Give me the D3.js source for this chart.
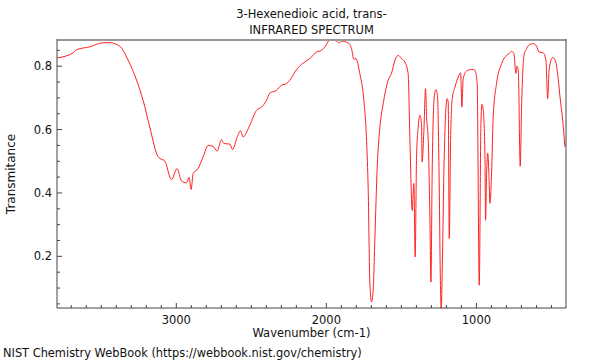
<!DOCTYPE html>
<html><head><meta charset="utf-8">
<script src="https://cdn.jsdelivr.net/npm/d3@7"></script>
<style>body{margin:0;background:#fff}svg{display:block;font-family:"DejaVu Sans",sans-serif}</style>
</head><body><svg id="c" width="600" height="360"></svg>
<script>
const titleLines = ["3-Hexenedioic acid, trans-", "INFRARED SPECTRUM"];
const xLabel = "Wavenumber (cm-1)";
const yLabel = "Transmitance";
const footer = "NIST Chemistry WebBook (https://webbook.nist.gov/chemistry)";
const xTickValues = [3000, 2000, 1000];
const yTickValues = [0.2, 0.4, 0.6, 0.8];
const wavenumber = [3795,3688,3665,3577,3488,3443,3377,3321,3265,3221,3177,3121,3110,3077,3032,2995,2965,2932,2915,2901,2888,2855,2821,2788,2755,2728,2699,2683,2643,2625,2595,2572,2555,2510,2465,2432,2399,2377,2332,2299,2265,2243,2199,2155,2110,2065,2032,2010,1977,1932,1915,1899,1855,1832,1817,1803,1777,1750,1732,1721,1710,1699,1688,1677,1661,1643,1621,1588,1566,1543,1521,1499,1477,1455,1443,1428,1417,1408,1399,1388,1377,1366,1362,1350,1339,1332,1321,1310,1303,1295,1281,1270,1259,1249,1239,1235,1226,1217,1206,1195,1188,1181,1172,1161,1143,1121,1105,1097,1088,1065,1032,1010,995,981,970,963,955,943,939,932,925,917,910,899,888,866,832,799,782,766,750,737,730,721,708,699,683,666,643,621,599,583,555,537,525,515,492,475,459,443,425,410];
const transmittance = [0.826,0.842,0.852,0.861,0.874,0.874,0.863,0.819,0.756,0.692,0.608,0.514,0.509,0.501,0.442,0.477,0.438,0.432,0.449,0.411,0.461,0.477,0.514,0.550,0.547,0.532,0.568,0.556,0.554,0.537,0.575,0.596,0.577,0.614,0.661,0.671,0.692,0.715,0.724,0.740,0.745,0.756,0.789,0.810,0.824,0.845,0.850,0.861,0.882,0.880,0.873,0.879,0.873,0.855,0.822,0.824,0.777,0.692,0.566,0.408,0.114,0.056,0.093,0.251,0.482,0.608,0.682,0.756,0.777,0.819,0.834,0.824,0.813,0.777,0.566,0.345,0.430,0.198,0.514,0.608,0.645,0.619,0.498,0.598,0.729,0.640,0.566,0.324,0.119,0.461,0.703,0.726,0.703,0.461,0.093,0.036,0.198,0.461,0.640,0.698,0.687,0.256,0.566,0.698,0.734,0.766,0.779,0.671,0.761,0.785,0.790,0.787,0.745,0.109,0.619,0.680,0.666,0.514,0.314,0.461,0.526,0.461,0.367,0.461,0.640,0.745,0.808,0.834,0.840,0.847,0.840,0.777,0.800,0.787,0.484,0.671,0.834,0.855,0.869,0.871,0.863,0.845,0.842,0.819,0.698,0.792,0.827,0.819,0.777,0.703,0.629,0.545];

const svg = d3.select("#c");
const L = 57, R = 566, T = 40, B = 308;
const FS = 11.5;
const x = d3.scaleLinear().domain([3795, 403]).range([L, R]);
const y = d3.scaleLinear().domain([0.037, 0.8826]).range([B, T]);

// data line
const data = wavenumber.map((w, i) => [w, transmittance[i]]);
svg.append("path").datum(data)
  .attr("fill", "none").attr("stroke", "#ff2020").attr("stroke-width", 1)
  .attr("stroke-linejoin", "round")
  .attr("d", d3.line().x(d => x(d[0])).y(d => y(d[1])).curve(d3.curveMonotoneX));

// frame
svg.append("line").attr("x1", L).attr("x2", R).attr("y1", T).attr("y2", T).attr("stroke", "#999").attr("stroke-width", 2);
svg.append("line").attr("x1", R).attr("x2", R).attr("y1", T - 1).attr("y2", B).attr("stroke", "#444").attr("stroke-width", 1);

// axes with inward ticks
const xMinor = d3.range(500, 3800, 100).filter(v => v % 1000 !== 0);
const gx = svg.append("g").attr("transform", `translate(0,${B})`);
gx.append("line").attr("x1", L).attr("x2", R).attr("stroke", "#444");
gx.selectAll(".mn").data(xMinor).join("line").attr("x1", d => x(d)).attr("x2", d => x(d)).attr("y1", 0).attr("y2", -3).attr("stroke", "#444");
gx.selectAll(".mj").data(xTickValues).join("line").attr("x1", d => x(d)).attr("x2", d => x(d)).attr("y1", 0).attr("y2", -5).attr("stroke", "#444");
gx.selectAll("text").data(xTickValues).join("text").attr("x", d => x(d)).attr("y", 16)
  .attr("text-anchor", "middle").attr("font-size", FS).attr("fill", "#111").text(d => d3.format("d")(d));

const yMinor = d3.range(0.05, 0.88, 0.05).map(v => +v.toFixed(2)).filter(v => !yTickValues.includes(v));
const gy = svg.append("g").attr("transform", `translate(${L},0)`);
gy.append("line").attr("y1", T - 1).attr("y2", B).attr("stroke", "#444");
gy.selectAll(".mn").data(yMinor).join("line").attr("y1", d => y(d)).attr("y2", d => y(d)).attr("x1", 0).attr("x2", 3).attr("stroke", "#444");
gy.selectAll(".mj").data(yTickValues).join("line").attr("y1", d => y(d)).attr("y2", d => y(d)).attr("x1", 0).attr("x2", 5).attr("stroke", "#444");
gy.selectAll("text").data(yTickValues).join("text").attr("x", -5).attr("y", d => y(d)).attr("dy", "0.35em")
  .attr("text-anchor", "end").attr("font-size", FS).attr("fill", "#111").text(d => d3.format(".1f")(d));

// titles
svg.selectAll(".title").data(titleLines).join("text")
  .attr("x", (L + R) / 2).attr("y", (d, i) => 18 + i * 16)
  .attr("text-anchor", "middle").attr("font-size", FS).attr("fill", "#111").text(d => d);
svg.append("text").attr("x", (L + R) / 2).attr("y", 337).attr("text-anchor", "middle")
  .attr("font-size", FS).attr("fill", "#111").text(xLabel);
svg.append("text").attr("transform", `translate(15,${(T + B) / 2}) rotate(-90)`)
  .attr("text-anchor", "middle").attr("font-size", 12).attr("fill", "#111").text(yLabel);
svg.append("text").attr("x", 3).attr("y", 357).attr("font-size", 11.4).attr("fill", "#111").text(footer);
</script></body></html>
